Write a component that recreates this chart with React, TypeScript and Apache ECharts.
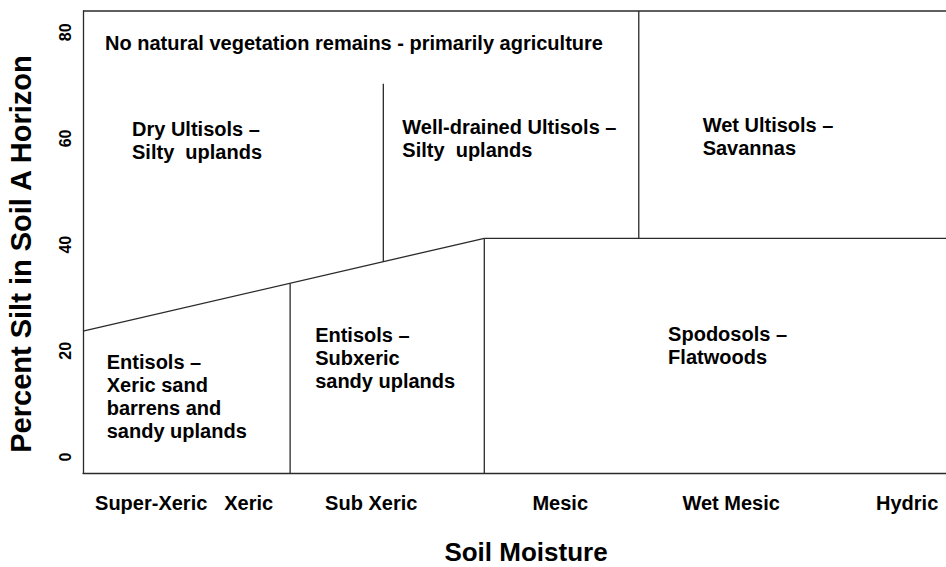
import React, { useEffect, useRef } from "react";
import * as echarts from "echarts";

// Axis label positions (soil-moisture scale, arbitrary units 0..100)
const moistureClasses = ["Super-Xeric", "Xeric", "Sub Xeric", "Mesic", "Wet Mesic", "Hydric"];
const moisturePositions = [7.9, 19.2, 33.4, 55.3, 75.1, 95.5];

// Percent silt ticks
const siltTicks = [0, 20, 40, 60, 80];

// Boundary segments between soil units [x, percent silt]
const boundaryStarts: [number, number][] = [
  [0, 84],
  [0, 23.7],
  [24.0, -3],
  [34.8, 36.8],
  [46.5, -3],
  [46.5, 41.2],
  [64.4, 41.2],
];
const boundaryEnds: [number, number][] = [
  [100, 84],
  [46.5, 41.2],
  [24.0, 32.73],
  [34.8, 70.3],
  [46.5, 41.2],
  [100, 41.2],
  [64.4, 84],
];

// Region labels
const regionNames = [
  "No natural vegetation remains - primarily agriculture",
  "Dry Ultisols –\nSilty  uplands",
  "Well-drained Ultisols –\nSilty  uplands",
  "Wet Ultisols –\nSavannas",
  "Entisols –\nXeric sand\nbarrens and\nsandy uplands",
  "Entisols –\nSubxeric\nsandy uplands",
  "Spodosols –\nFlatwoods",
];
const regionX = [2.55, 5.68, 37.0, 71.8, 2.75, 26.9, 67.8];
const regionY = [78.0, 59.7, 59.9, 60.4, 11.4, 18.7, 21.1];

const FONT = "'Liberation Sans', Arial, Helvetica, sans-serif";
const LINE = "#2a2a2a";
const TEXT = "#000000";

export default function App() {
  const ref = useRef<HTMLDivElement>(null);

  useEffect(() => {
    if (!ref.current) return;
    const chart = echarts.init(ref.current, undefined, { renderer: "svg" });

    const lineSeries = boundaryStarts.map((s, i) => ({
      type: "line",
      data: [s, boundaryEnds[i]],
      symbol: "none",
      silent: true,
      clip: false,
      lineStyle: { color: LINE, width: 1.3 },
      z: 3,
    }));

    const option: any = {
      animation: false,
      backgroundColor: "#ffffff",
      grid: {
        left: 83,
        top: 11,
        right: 0,
        bottom: 94,
        containLabel: false,
        outerBoundsMode: "none",
      },
      xAxis: {
        type: "value",
        min: 0,
        max: 100,
        name: "Soil Moisture",
        nameLocation: "middle",
        nameGap: 66,
        nameTextStyle: {
          fontFamily: FONT,
          fontWeight: "bold",
          fontSize: 26,
          color: TEXT,
          padding: [0, 0, 0, 23],
        },
        axisLine: { show: true, onZero: false, lineStyle: { color: LINE, width: 1.3 } },
        axisTick: { show: false },
        splitLine: { show: false },
        axisLabel: {
          customValues: moisturePositions,
          margin: 20,
          fontFamily: FONT,
          fontWeight: "bold",
          fontSize: 20,
          color: TEXT,
          formatter: (v: number) => {
            let best = 0;
            for (let i = 1; i < moisturePositions.length; i++) {
              if (Math.abs(moisturePositions[i] - v) < Math.abs(moisturePositions[best] - v)) best = i;
            }
            return moistureClasses[best];
          },
        },
      },
      yAxis: {
        type: "value",
        min: -3,
        max: 84,
        name: "Percent Silt in Soil A Horizon",
        nameLocation: "middle",
        nameRotate: 90,
        nameGap: 48,
        nameTextStyle: {
          fontFamily: FONT,
          fontWeight: "bold",
          fontSize: 29,
          color: TEXT,
          padding: [0, 24, 0, 0],
        },
        axisLine: { show: true, lineStyle: { color: LINE, width: 1.3 } },
        axisTick: { show: false },
        splitLine: { show: false },
        axisLabel: {
          customValues: siltTicks,
          rotate: 90,
          margin: 10,
          fontFamily: FONT,
          fontWeight: "bold",
          fontSize: 16,
          color: TEXT,
        },
      },
      series: [
        ...lineSeries,
        {
          type: "scatter",
          symbolSize: 0,
          silent: true,
          itemStyle: { color: "transparent", opacity: 1 },
          data: regionNames.map((n, i) => ({ value: [regionX[i], regionY[i]], name: n })),
          label: {
            show: true,
            position: "right",
            distance: 0,
            align: "left",
            verticalAlign: "middle",
            formatter: (p: any) => p.name,
            fontFamily: FONT,
            fontWeight: "bold",
            fontSize: 20,
            lineHeight: 23,
            color: TEXT,
            opacity: 1,
          },
          z: 5,
        },
      ],
    };

    chart.setOption(option);
    return () => chart.dispose();
  }, []);

  return (
    <div
      ref={ref}
      style={{ position: "fixed", left: 0, top: 0, width: 946, height: 567, background: "#fff" }}
    />
  );
}
